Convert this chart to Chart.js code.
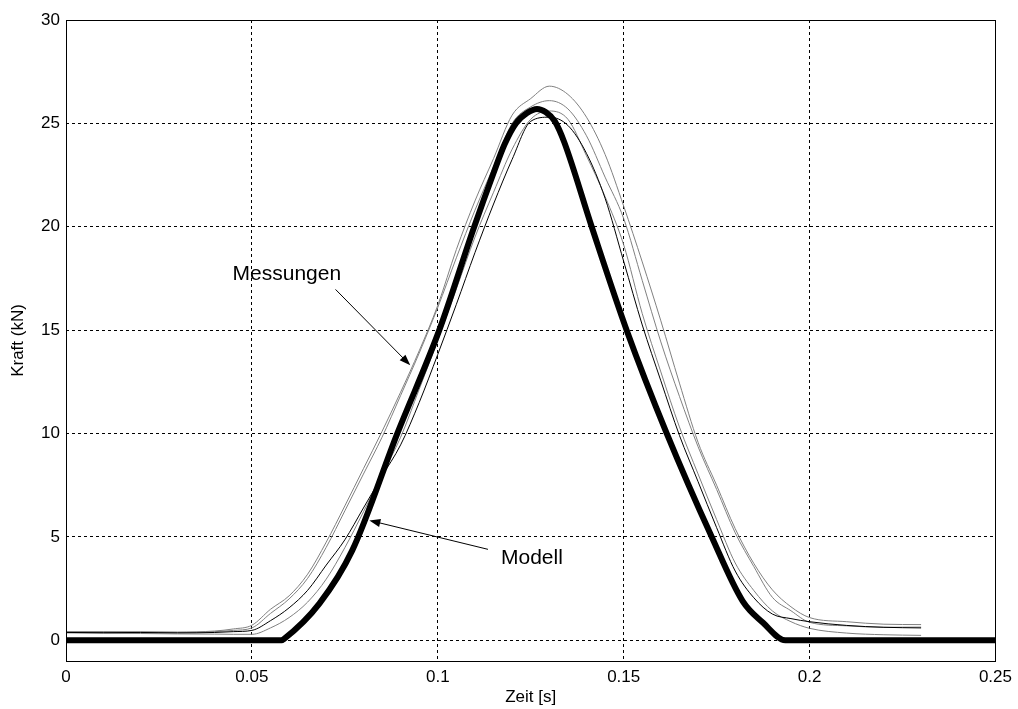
<!DOCTYPE html>
<html>
<head>
<meta charset="utf-8">
<script src="https://cdn.jsdelivr.net/npm/chart.js@4/dist/chart.umd.min.js"></script>
<style>
  html,body{margin:0;padding:0;background:#fff;}
  #wrap{width:1018px;height:709px;position:relative;}
</style>
</head>
<body>
<div id="wrap"><canvas id="chart"></canvas></div>
<script>
// time grid of the measurements [s]
const timeS=[0,0.01,0.02,0.03,0.04,0.045,0.05,0.055,0.06,0.065,0.07,0.075,0.08,0.085,0.09,0.095,0.1,0.105,0.11,0.115,0.12,0.125,0.13,0.135,0.14,0.145,0.15,0.155,0.16,0.165,0.17,0.175,0.18,0.185,0.19,0.195,0.2,0.21,0.22,0.23];
// measured force curves [kN]
const mess1=[0.42,0.42,0.41,0.40,0.45,0.55,0.73,1.5,2.15,3.2,4.75,6.5,8.3,10.1,12.0,14.0,16.2,18.9,21.25,23.3,25.4,26.2,26.8,26.4,25.3,23.5,21.0,18.3,15.45,12.44,9.58,7.5,5.4,3.72,2.44,1.62,1.1,0.9,0.78,0.76];
const mess2=[0.40,0.39,0.40,0.38,0.42,0.48,0.60,1.3,2.0,3.0,4.5,6.26,8.04,9.82,11.84,13.89,16.1,18.5,20.8,22.9,25.0,25.8,26.1,25.7,24.4,22.4,20.4,17.4,14.43,11.8,9.37,7.3,5.2,3.57,2.08,1.43,0.87,0.7,0.63,0.64];
const mess3=[0.38,0.37,0.38,0.36,0.38,0.42,0.48,0.95,1.57,2.42,3.64,4.86,6.4,7.94,9.45,11.5,13.83,16.25,18.75,21.1,23.26,25.1,25.3,24.9,23.55,21.38,18.33,15.25,12.55,9.91,7.68,5.45,3.35,2.06,1.27,1.05,0.9,0.72,0.63,0.6];
const mess4=[0.36,0.34,0.33,0.31,0.30,0.29,0.29,0.6,1.1,1.85,2.96,4.48,6.21,8.0,9.82,12.14,14.52,17.0,19.5,21.67,23.75,25.2,25.6,25.2,23.43,21.46,19.13,15.8,12.98,10.32,8.05,5.84,3.74,2.41,1.42,0.9,0.58,0.35,0.27,0.24];
// model curve
const modelT=[0,0.058,0.0585,0.0682,0.077,0.0891,0.1004,0.1098,0.115,0.118,0.121,0.124,0.1267,0.129,0.1315,0.134,0.1414,0.1508,0.1616,0.1737,0.182,0.1875,0.1935,0.25];
const modelF=[0,0,0.05,1.79,4.35,10,15,20,22.6,24.0,25,25.5,25.7,25.55,25.1,24.1,20,15,10,5,1.9,0.85,0,0];
// ticks
const xTicks=[0,0.05,0.1,0.15,0.2,0.25];
const yTicks=[0,5,10,15,20,25,30];
// annotations (data units)
const noteText=['Messungen','Modell'];
const noteX=[0.0448,0.117];
const noteY=[17.41,3.68];
const arrowFromX=[0.0725,0.1135];
const arrowFromY=[16.97,4.40];
const arrowToX=[0.0926,0.0816];
const arrowToY=[13.30,5.80];

Chart.defaults.font.family='"Liberation Sans", Arial, Helvetica, sans-serif';
Chart.defaults.color='#000';

const pts=(xs,ys)=>xs.map((x,i)=>({x,y:ys[i]}));
const thin=(data,color)=>({data,borderColor:color,borderWidth:1,pointRadius:0,cubicInterpolationMode:'monotone',fill:false});
const align=p=>Math.round(p-0.5)+0.5;

const boxAndNotes={
  id:'boxAndNotes',
  afterDraw(chart){
    const ctx=chart.ctx, sx=chart.scales.x, sy=chart.scales.y;
    const l=align(sx.getPixelForValue(xTicks[0])), r=align(sx.getPixelForValue(xTicks[xTicks.length-1]));
    const t=align(sy.getPixelForValue(yTicks[yTicks.length-1])), b=align(sy.getPixelForValue(sy.min));
    ctx.save();
    ctx.strokeStyle='#000'; ctx.lineWidth=1; ctx.setLineDash([]);
    ctx.strokeRect(l,t,r-l,b-t);
    ctx.font='21px "Liberation Sans", Arial, sans-serif';
    ctx.fillStyle='#000'; ctx.textBaseline='alphabetic'; ctx.textAlign='left';
    noteText.forEach((txt,i)=>{
      ctx.fillText(txt,sx.getPixelForValue(noteX[i]),sy.getPixelForValue(noteY[i]));
      const x0=sx.getPixelForValue(arrowFromX[i]),y0=sy.getPixelForValue(arrowFromY[i]);
      const x1=sx.getPixelForValue(arrowToX[i]),y1=sy.getPixelForValue(arrowToY[i]);
      const ang=Math.atan2(y1-y0,x1-x0), hl=11, hw=4;
      ctx.beginPath(); ctx.moveTo(x0,y0); ctx.lineTo(x1-Math.cos(ang)*hl*0.8,y1-Math.sin(ang)*hl*0.8); ctx.stroke();
      ctx.beginPath();
      ctx.moveTo(x1,y1);
      ctx.lineTo(x1-Math.cos(ang)*hl-Math.sin(ang)*hw,y1-Math.sin(ang)*hl+Math.cos(ang)*hw);
      ctx.lineTo(x1-Math.cos(ang)*hl+Math.sin(ang)*hw,y1-Math.sin(ang)*hl-Math.cos(ang)*hw);
      ctx.closePath(); ctx.fill();
    });
    ctx.restore();
  }
};

new Chart(document.getElementById('chart'),{
  type:'line',
  data:{datasets:[
    {data:pts(modelT,modelF),borderColor:'#000',borderWidth:6,pointRadius:0,cubicInterpolationMode:'monotone',fill:false,borderJoinStyle:'round'},
    thin(pts(timeS,mess3),'#000'),
    thin(pts(timeS,mess1),'#808080'),
    thin(pts(timeS,mess2),'#808080'),
    thin(pts(timeS,mess4),'#808080')
  ]},
  options:{
    responsive:true,maintainAspectRatio:false,animation:false,
    layout:{padding:{top:20,right:21,left:0,bottom:0}},
    plugins:{legend:{display:false},tooltip:{enabled:false}},
    scales:{
      x:{
        type:'linear',min:0,max:0.25,
        afterBuildTicks:s=>{s.ticks=xTicks.map(v=>({value:v}));},
        afterFit:s=>{s.height=48;},
        ticks:{font:{size:17},color:'#000',padding:6,maxRotation:0,autoSkip:false,callback:v=>String(v)},
        grid:{color:'#000',lineWidth:1,drawTicks:false},
        border:{display:false,dash:[3,3]},
        title:{display:true,text:'Zeit [s]',font:{size:17},color:'#000',padding:{top:0,bottom:1}}
      },
      y:{
        type:'linear',min:-1,max:30,
        afterBuildTicks:s=>{s.ticks=yTicks.map(v=>({value:v}));},
        afterFit:s=>{s.width=66;},
        ticks:{font:{size:17},color:'#000',padding:6,callback:v=>String(v)},
        grid:{color:'#000',lineWidth:1,drawTicks:false},
        border:{display:false,dash:[3,3]},
        title:{display:true,text:'Kraft (kN)',font:{size:17},color:'#000',padding:{top:8,bottom:0}}
      }
    }
  },
  plugins:[boxAndNotes]
});
</script>
</body>
</html>
